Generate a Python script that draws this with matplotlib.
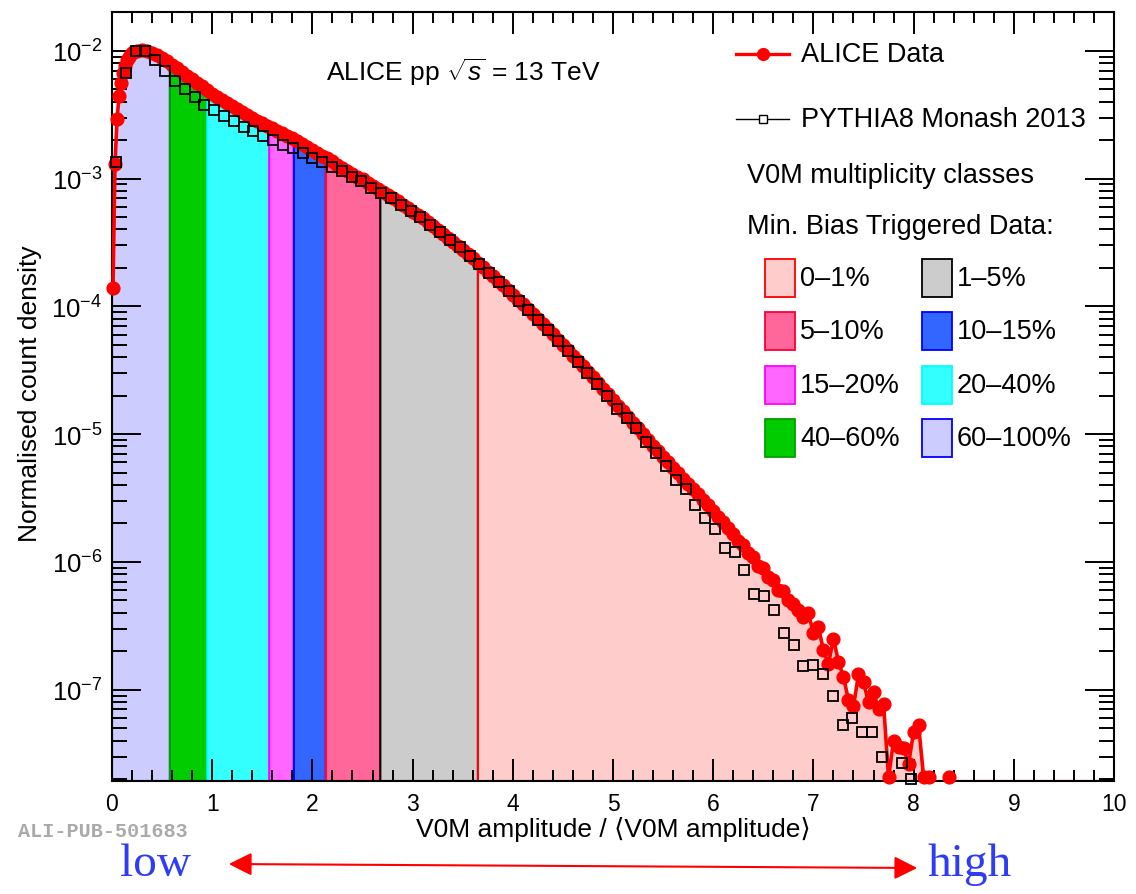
import numpy as np
import matplotlib
matplotlib.use("Agg")
import matplotlib.pyplot as plt
from matplotlib.patches import Rectangle, Polygon, FancyArrowPatch
from matplotlib.ticker import MultipleLocator, LogLocator, NullFormatter, LogFormatterSciNotation

plt.rcParams['font.family'] = ['Liberation Sans', 'DejaVu Sans']
plt.rcParams['mathtext.fontset'] = 'custom'
plt.rcParams['mathtext.rm'] = 'Liberation Sans'
plt.rcParams['mathtext.it'] = 'Liberation Sans:italic'
plt.rcParams['mathtext.bf'] = 'Liberation Sans:bold'

# ALICE data: fine bins on the rising edge, then 0.05 wide bins (log10 of density)
alice_x_rise = [0.01, 0.03, 0.05, 0.07, 0.09, 0.11, 0.13, 0.15, 0.17, 0.19, 0.21]
alice_rise = [1.4e-4, 1.3e-3, 2.9e-3, 4.4e-3, 5.6e-3, 6.7e-3, 7.6e-3, 8.4e-3, 9.0e-3, 9.5e-3, 9.8e-3]

alice_x_main = np.round(0.25 + 0.05 * np.arange(163), 2)
alice_log_main = [
    -2.000, -1.998, -2.005, -2.015, -2.035, -2.060, -2.082, -2.110, -2.138, -2.168,
    -2.195, -2.222, -2.250, -2.278, -2.307, -2.337, -2.361, -2.384, -2.407, -2.430,
    -2.455, -2.480, -2.503, -2.526, -2.547, -2.567, -2.587, -2.606, -2.626, -2.647,
    -2.667, -2.686, -2.707, -2.728, -2.754, -2.780, -2.801, -2.822, -2.843, -2.864,
    -2.892, -2.915, -2.940, -2.965, -2.985, -3.005, -3.032, -3.060, -3.084, -3.108,
    -3.130, -3.152, -3.179, -3.206, -3.233, -3.260, -3.285, -3.310, -3.342, -3.374,
    -3.403, -3.433, -3.463, -3.493, -3.525, -3.556, -3.590, -3.625, -3.660, -3.694,
    -3.729, -3.764, -3.800, -3.834, -3.872, -3.910, -3.948, -3.985, -4.023, -4.062,
    -4.100, -4.140, -4.180, -4.220, -4.260, -4.300, -4.342, -4.385, -4.428, -4.470,
    -4.512, -4.555, -4.600, -4.645, -4.690, -4.735, -4.778, -4.820, -4.865, -4.910,
    -4.955, -5.000, -5.045, -5.090, -5.135, -5.180, -5.222, -5.265, -5.308, -5.350,
    -5.390, -5.430, -5.472, -5.515, -5.558, -5.600, -5.645, -5.690, -5.737, -5.785,
    -5.840, -5.870, -5.930, -5.960, -6.030, -6.050, -6.120, -6.140, -6.220, -6.230,
    -6.300, -6.330, -6.380, -6.430, -6.400, -6.560, -6.510, -6.690, -6.800, -6.600,
    -6.780, -6.900, -7.080, -7.130, -6.880, -6.940, -7.100, -7.020, -7.150, -7.110,
    -7.686, -7.400, -7.450, -7.460, -7.580, -7.330, -7.280, -7.686, -7.686, np.nan,
    np.nan, np.nan, -7.686,
]

# PYTHIA8 Monash 2013 prediction
pythia_x = np.round(0.04 + 0.098 * np.arange(82), 3)
pythia_y = [
    1.34e-3, 6.65e-3, 9.9e-3, 9.9e-3, 8.5e-3, 7.0e-3, 5.82e-3, 4.99e-3, 4.37e-3, 3.78e-3,
    3.42e-3, 3.08e-3, 2.8e-3, 2.54e-3, 2.34e-3, 2.16e-3, 2.0e-3, 1.84e-3, 1.72e-3, 1.59e-3,
    1.45e-3, 1.34e-3, 1.24e-3, 1.14e-3, 1.03e-3, 9.5e-4, 8.5e-4, 7.66e-4, 7.0e-4, 6.24e-4,
    5.53e-4, 4.97e-4, 4.32e-4, 3.79e-4, 3.32e-4, 2.9e-4, 2.49e-4, 2.14e-4, 1.82e-4, 1.56e-4,
    1.32e-4, 1.11e-4, 9.35e-5, 7.86e-5, 6.56e-5, 5.38e-5, 4.5e-5, 3.65e-5, 2.99e-5, 2.47e-5,
    2.0e-5, 1.57e-5, 1.33e-5, 1.12e-5, 8.6e-6, 7.1e-6, 5.6e-6, 4.4e-6, 3.72e-6, 2.79e-6,
    2.2e-6, 1.8e-6, 1.28e-6, 1.19e-6, 8.6e-7, 5.6e-7, 5.4e-7, 4.2e-7, 2.76e-7, 2.24e-7,
    1.52e-7, 1.56e-7, 1.33e-7, 9.0e-8, 5.3e-8, 6.0e-8, 4.7e-8, 4.7e-8, 3.0e-8, np.nan,
    2.65e-8, 2.0e-8,
]

# V0M multiplicity classes, from low to high multiplicity
class_names = ['60–100%', '40–60%', '20–40%', '15–20%', '10–15%', '5–10%', '1–5%', '0–1%']
class_edges = [0.0, 0.578, 0.951, 1.569, 1.815, 2.134, 2.678, 3.652, 10.0]
class_fill = ['#ccccff', '#00cc00', '#33ffff', '#ff66ff', '#3366ff', '#ff6699', '#cccccc', '#ffcccc']
class_line = ['#0000ff', '#00a000', '#00ffff', '#ff00ff', '#0000ff', '#ff0033', '#000000', '#ff0000']

ymin, ymax = 1.93e-8, 2.02e-2

alice_x = np.concatenate([alice_x_rise, alice_x_main])
alice_y = np.concatenate([alice_rise, 10.0 ** np.array(alice_log_main)])

fig = plt.figure(figsize=(11.36, 8.95), dpi=100)
ax = fig.add_axes([112 / 1136, 113 / 895, 1002 / 1136, 769.3 / 895])
ax.set_yscale('log')
ax.set_xlim(0, 10)
ax.set_ylim(ymin, ymax)

# filled classes under the data histogram
log_fill = np.log10(np.nan_to_num(alice_y, nan=ymin))
for i, name in enumerate(class_names):
    lo, hi = class_edges[i], class_edges[i + 1]
    inside = (alice_x > lo) & (alice_x < hi)
    xs = np.concatenate([[lo], alice_x[inside]])
    ys = np.concatenate([[10 ** np.interp(lo, alice_x, log_fill)], 10 ** log_fill[inside]])
    if hi < alice_x[-1]:
        xs = np.append(xs, hi)
        ys = np.append(ys, 10 ** np.interp(hi, alice_x, log_fill))
    verts = [(lo, ymin)] + list(zip(xs, ys)) + [(xs[-1], ymin), (hi, ymin)]
    ax.add_patch(Polygon(verts, closed=True, facecolor=class_fill[i],
                         edgecolor=class_line[i], lw=1.5, zorder=1))

ax.plot(alice_x, alice_y, '-o', color='#ff0000', lw=2.6, ms=9.2, zorder=3, clip_on=False)
ax.plot(pythia_x, pythia_y, 's', mfc='none', mec='black', mew=1.3, ms=6.8, zorder=4, clip_on=False)

# axes styling
for sp in ax.spines.values():
    sp.set_linewidth(1.5)
ax.xaxis.set_major_locator(MultipleLocator(1))
ax.xaxis.set_minor_locator(MultipleLocator(0.2))
ax.yaxis.set_major_locator(LogLocator(base=10))
ax.yaxis.set_minor_locator(LogLocator(base=10, subs=np.arange(2, 10)))
ax.yaxis.set_minor_formatter(NullFormatter())
ax.yaxis.set_major_formatter(LogFormatterSciNotation())
ax.tick_params(which='both', direction='in', top=True, right=True, width=1.4)
ax.tick_params(axis='x', which='major', length=16, pad=8, labelsize=16.5)
ax.tick_params(axis='x', which='minor', length=8)
ax.tick_params(axis='y', which='major', length=21, pad=7, labelsize=18.5)
ax.tick_params(axis='y', which='minor', length=10.5)

ax.set_xlabel('V0M amplitude / ⟨V0M amplitude⟩', fontsize=19)
ax.xaxis.set_label_coords(0.5, -0.046)
ax.set_ylabel('Normalised count density', fontsize=19, va='center')
ax.yaxis.set_label_coords(-0.082, 0.505)

ax.text(0.2136, 0.923, r'ALICE pp $\sqrt{s}$ = 13 TeV', transform=ax.transAxes,
        fontsize=19, va='center', ha='left')

# legend for data and model
ax.plot([0.623, 0.676], [0.9455, 0.9455], color='#ff0000', lw=2.4, transform=ax.transAxes, clip_on=False)
ax.plot([0.6495], [0.9455], 'o', color='#ff0000', ms=8.5, transform=ax.transAxes, clip_on=False)
ax.text(0.688, 0.9455, 'ALICE Data', transform=ax.transAxes, fontsize=19.5, va='center')
ax.plot([0.623, 0.676], [0.8605, 0.8605], color='black', lw=1.0, transform=ax.transAxes, clip_on=False)
ax.plot([0.6495], [0.8605], 's', mfc='white', mec='black', mew=1.0, ms=5.5,
        transform=ax.transAxes, clip_on=False)
ax.text(0.688, 0.8605, 'PYTHIA8 Monash 2013', transform=ax.transAxes, fontsize=19.5, va='center')
ax.text(0.634, 0.788, 'V0M multiplicity classes', transform=ax.transAxes, fontsize=19.5, va='center')
ax.text(0.634, 0.7214, 'Min. Bias Triggered Data:', transform=ax.transAxes, fontsize=19.5, va='center')

# class boxes, two columns, highest multiplicity first
box_order = ['0–1%', '1–5%', '5–10%', '10–15%', '15–20%', '20–40%', '40–60%', '60–100%']
row_y = [0.6538, 0.5849, 0.5154, 0.4459]
col_x = [0.652, 0.8084]
for j, name in enumerate(box_order):
    i = class_names.index(name)
    bx, by = col_x[j % 2], row_y[j // 2]
    ax.add_patch(Rectangle((bx, by - 0.0247), 0.030, 0.0494, transform=ax.transAxes,
                           facecolor=class_fill[i], edgecolor=class_line[i], lw=1.3,
                           clip_on=False, zorder=5))
    ax.text(bx + 0.035, by, name, transform=ax.transAxes, fontsize=19.5, va='center')

# bottom annotations
fig.text(18 / 1136, 1 - 832 / 895, 'ALI-PUB-501683', family='Liberation Mono', weight='bold',
         color='#aaaaaa', fontsize=14.5, va='center', ha='left')
fig.text(120 / 1136, 1 - 876 / 895, 'low', family='Liberation Serif', color='#2f3cf5',
         fontsize=34, va='baseline', ha='left')
fig.text(928 / 1136, 1 - 876 / 895, 'high', family='Liberation Serif', color='#2f3cf5',
         fontsize=34, va='baseline', ha='left')
fig.add_artist(FancyArrowPatch((226 / 1136, 1 - 865 / 895), (920 / 1136, 1 - 869 / 895),
                               transform=fig.transFigure, arrowstyle='<|-|>,head_length=0.7,head_width=0.35',
                               mutation_scale=20, color='#ff0000', lw=1.5))

fig.savefig('out.png', dpi=100)
